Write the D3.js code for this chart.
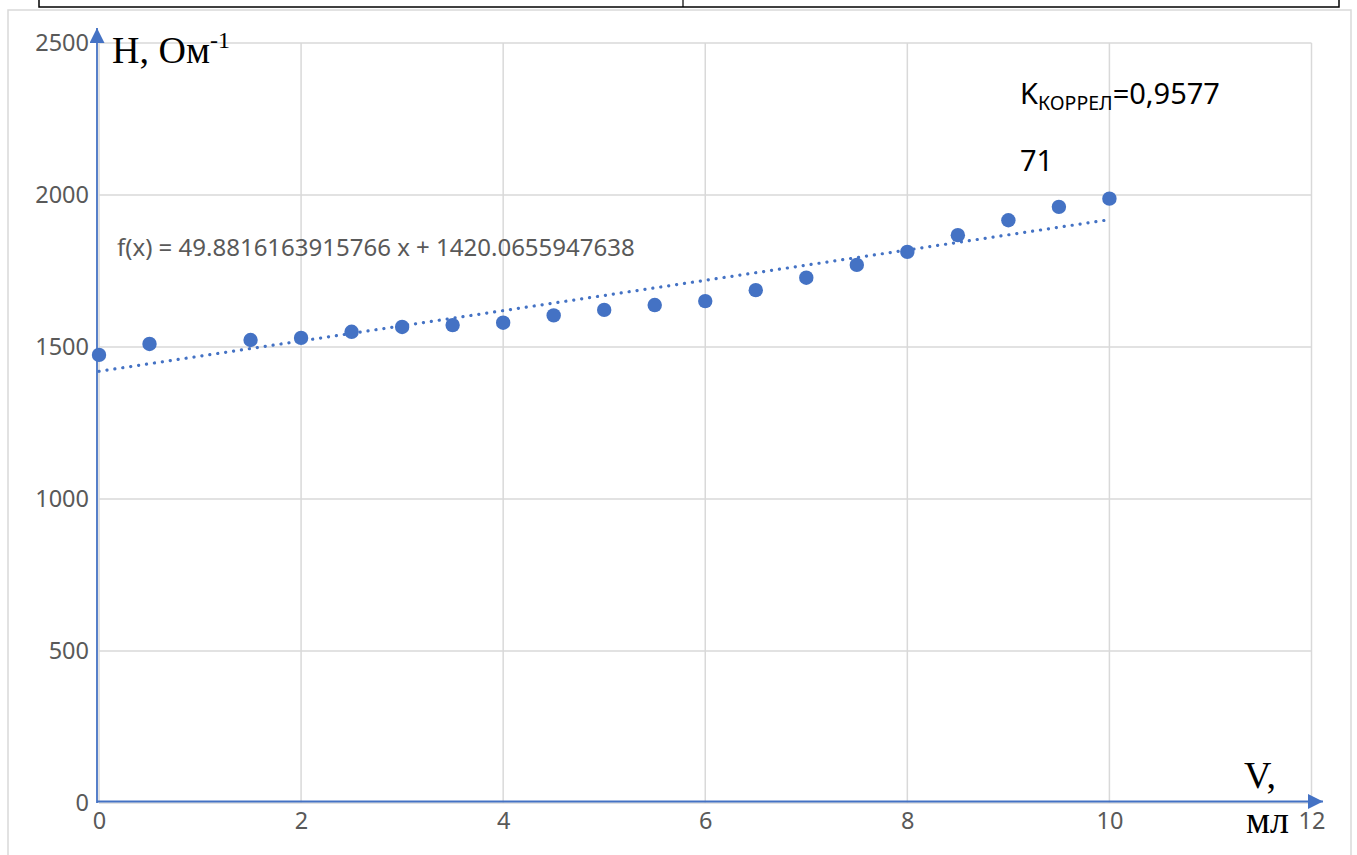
<!DOCTYPE html>
<html><head><meta charset="utf-8">
<script src="https://cdn.jsdelivr.net/npm/d3@7"></script>
<style>body{margin:0;background:#fff}svg{display:block}</style>
</head><body>
<svg id="c" width="1357" height="855"></svg>
<script>
const xValues = [0, 0.5, 1.5, 2, 2.5, 3, 3.5, 4, 4.5, 5, 5.5, 6, 6.5, 7, 7.5, 8, 8.5, 9, 9.5, 10];
const yValues = [1474, 1510, 1523, 1530, 1550, 1566, 1572, 1580, 1604, 1622, 1638, 1651, 1687, 1728, 1770, 1813, 1868, 1917, 1961, 1988];
const xTicks = [0, 2, 4, 6, 8, 10, 12];
const yTicks = [0, 500, 1000, 1500, 2000, 2500];
const slope = 49.8816163915766, intercept = 1420.0655947638;
const trendRange = [0, 10];
const equationLabel = "f(x) = 49.8816163915766 x + 1420.0655947638";

const svg = d3.select("#c");
const blue = "#4472C4", grid = "#d9d9d9", tickCol = "#595959";
const sans = "Noto Sans, Open Sans, sans-serif";
const serif = "Liberation Serif, Times New Roman, serif";
const x = d3.scaleLinear().domain([0, 12]).range([99, 1311.5]);
const y = d3.scaleLinear().domain([0, 2500]).range([803, 43]);

// top table fragment
svg.append("rect").attr("x", 39).attr("y", -10).attr("width", 1300).attr("height", 17)
  .attr("fill", "none").attr("stroke", "#000").attr("stroke-width", 1.5);
svg.append("line").attr("x1", 683).attr("x2", 683).attr("y1", 0).attr("y2", 7).attr("stroke", "#000").attr("stroke-width", 1.2);
// chart frame
svg.append("rect").attr("x", 8).attr("y", 10).attr("width", 1343).attr("height", 860)
  .attr("fill", "#fff").attr("stroke", grid).attr("stroke-width", 1.5);

// gridlines
svg.append("g").selectAll("line").data(xTicks).join("line")
  .attr("x1", d => x(d)).attr("x2", d => x(d)).attr("y1", y(0)).attr("y2", y(2500))
  .attr("stroke", grid).attr("stroke-width", 1.5);
svg.append("g").selectAll("line").data(yTicks).join("line")
  .attr("x1", x(0)).attr("x2", x(12)).attr("y1", d => y(d)).attr("y2", d => y(d))
  .attr("stroke", grid).attr("stroke-width", 1.5);

// axes via d3
const xAxis = svg.append("g").attr("transform", `translate(0,${y(0)})`)
  .call(d3.axisBottom(x).tickValues(xTicks).tickSize(0).tickPadding(10).tickFormat(d3.format("d")));
xAxis.select(".domain").remove();
const yAxis = svg.append("g").attr("transform", `translate(${x(0)},0)`)
  .call(d3.axisLeft(y).tickValues(yTicks).tickSize(0).tickPadding(10).tickFormat(d3.format("d")));
yAxis.select(".domain").remove();
svg.selectAll(".tick text").attr("fill", tickCol).attr("font-family", sans).attr("font-size", 23.5);
xAxis.selectAll(".tick text").attr("dy", "0.68em");

// blue drawn axes with arrows
const defs = svg.append("defs");
defs.append("marker").attr("id", "arr").attr("viewBox", "0 0 10 10").attr("refX", 10).attr("refY", 5)
  .attr("markerWidth", 15).attr("markerHeight", 15).attr("markerUnits", "userSpaceOnUse").attr("orient", "auto")
  .append("path").attr("d", "M0,0 L10,5 L0,10 Z").attr("fill", blue);
svg.append("line").attr("x1", x(0) - 2).attr("y1", y(0)).attr("x2", x(0) - 2).attr("y2", 28)
  .attr("stroke", blue).attr("stroke-width", 1.8).attr("marker-end", "url(#arr)");
svg.append("line").attr("x1", x(0) - 2).attr("y1", y(0) - 1.5).attr("x2", 1323).attr("y2", y(0) - 1.5)
  .attr("stroke", blue).attr("stroke-width", 1.8).attr("marker-end", "url(#arr)");

// trendline
svg.append("line")
  .attr("x1", x(trendRange[0])).attr("y1", y(slope * trendRange[0] + intercept))
  .attr("x2", x(trendRange[1])).attr("y2", y(slope * trendRange[1] + intercept))
  .attr("stroke", blue).attr("stroke-width", 3.2).attr("stroke-linecap", "round")
  .attr("stroke-dasharray", "0.1 7.9");

// points
svg.append("g").selectAll("circle").data(xValues.map((v, i) => [v, yValues[i]])).join("circle")
  .attr("cx", d => x(d[0])).attr("cy", d => y(d[1])).attr("r", 7.2).attr("fill", blue);

// equation
svg.append("text").attr("x", 117).attr("y", 256).attr("fill", tickCol)
  .attr("font-family", sans).attr("font-size", 24).text(equationLabel);

// axis titles (serif)
const hT = svg.append("text").attr("x", 112).attr("y", 63).attr("font-family", serif)
  .attr("font-size", 38).attr("fill", "#000");
hT.append("tspan").text("H, Ом");
hT.append("tspan").attr("font-size", 24).attr("dy", -15).text("-1");
svg.append("text").attr("x", 1244).attr("y", 788).attr("font-family", serif)
  .attr("font-size", 38).attr("fill", "#000").text("V,");
svg.append("text").attr("x", 1246).attr("y", 833).attr("font-family", serif)
  .attr("font-size", 38).attr("fill", "#000").text("мл");

// correlation annotation
const kT = svg.append("text").attr("x", 1020).attr("y", 104).attr("font-family", sans)
  .attr("font-size", 29).attr("fill", "#000");
kT.append("tspan").text("K");
kT.append("tspan").attr("font-size", 19.5).attr("dy", 6).text("КОРРЕЛ");
kT.append("tspan").attr("dy", -6).text("=0,9577");
svg.append("text").attr("x", 1020).attr("y", 171).attr("font-family", sans)
  .attr("font-size", 29).attr("fill", "#000").text("71");
</script>
</body></html>
